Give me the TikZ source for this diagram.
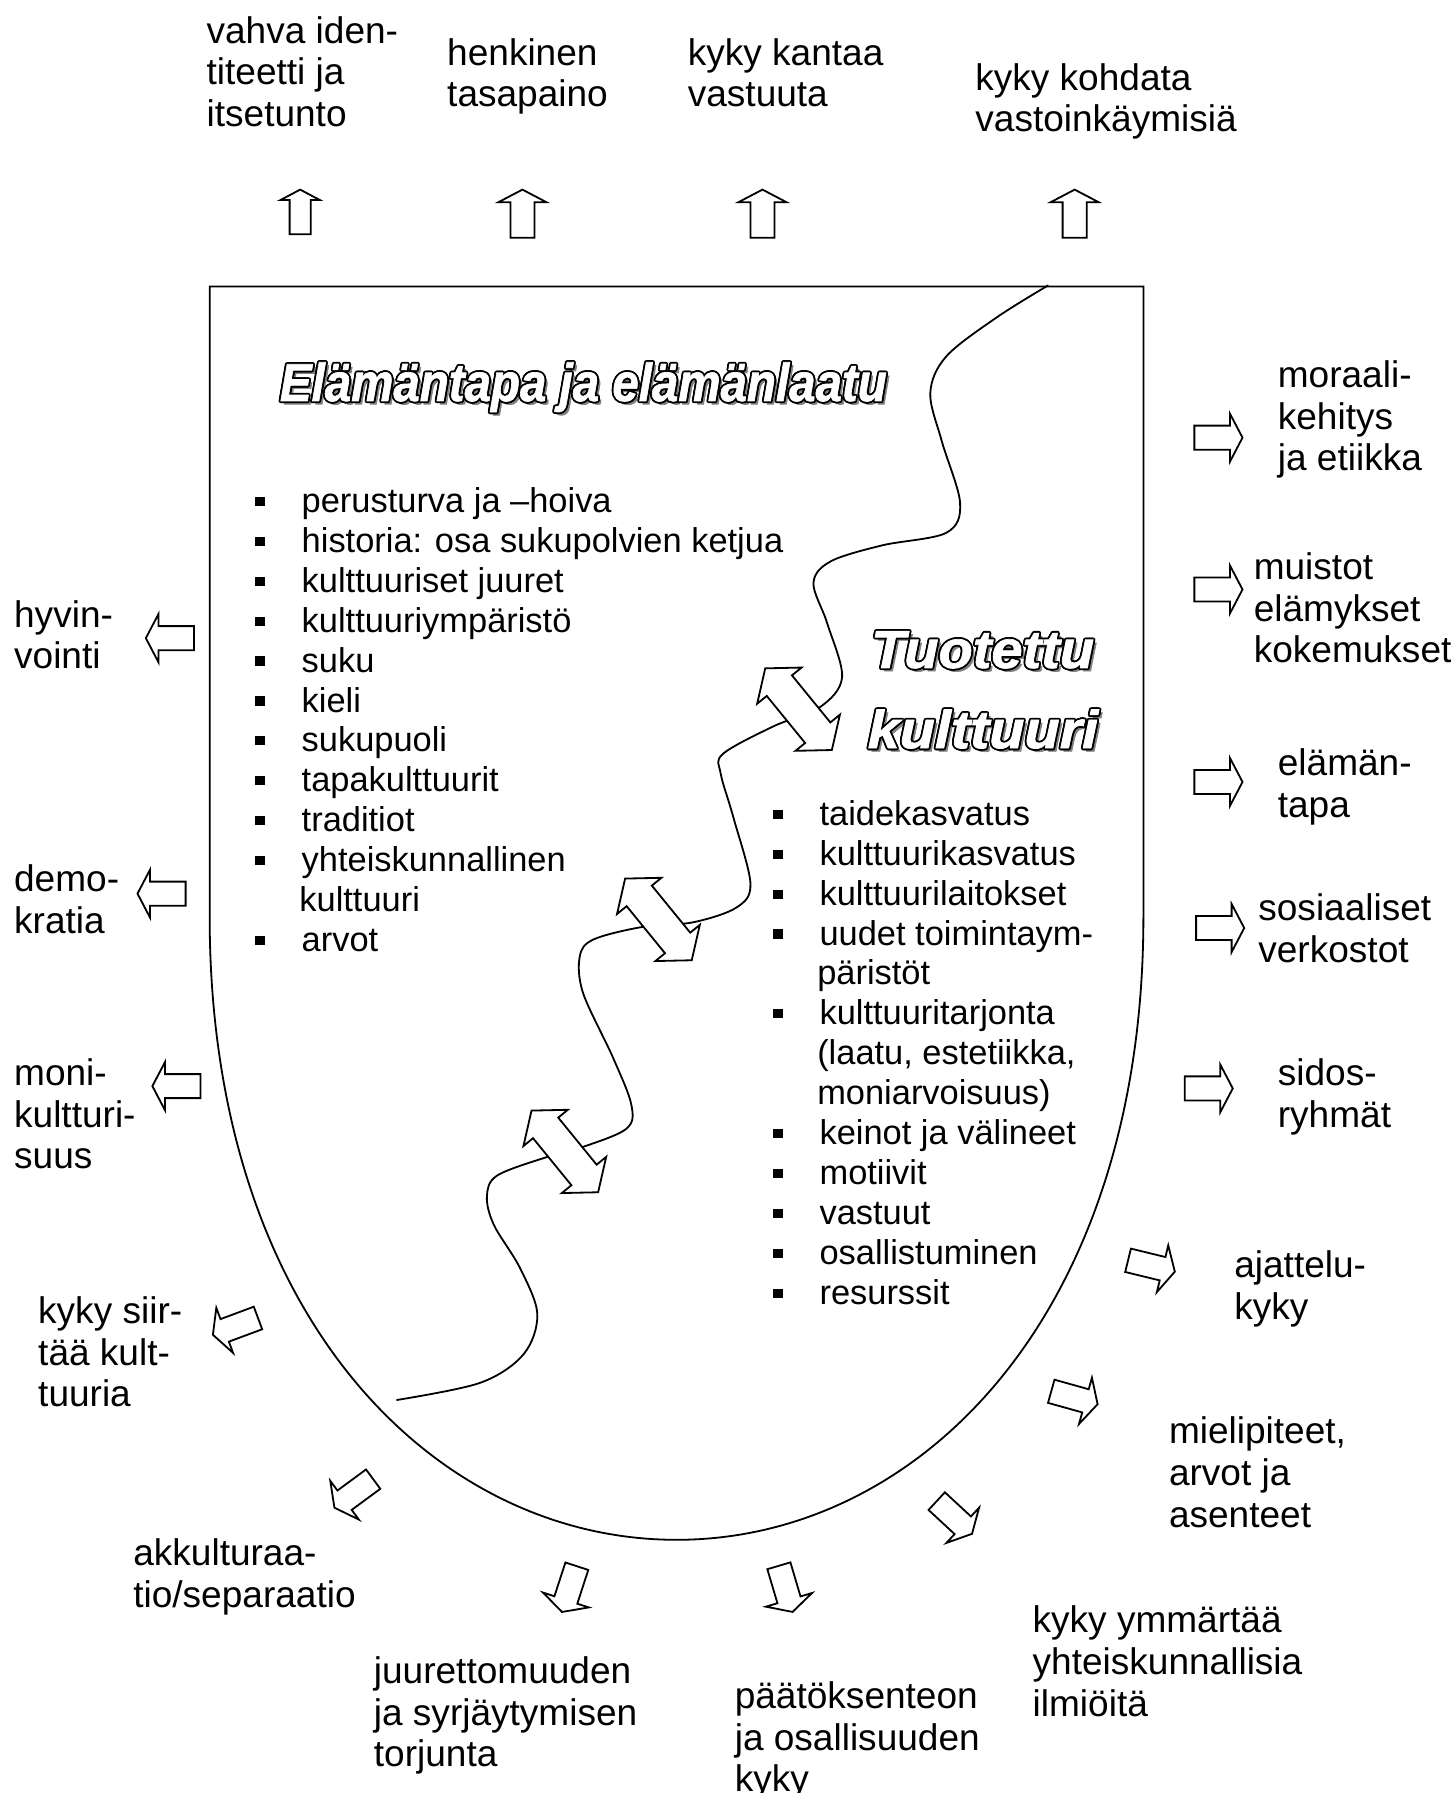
\documentclass[tikz,border=0pt]{standalone}
\usepackage{fontspec}
\setmainfont{Liberation Sans}
\newfontfamily\wafam[FakeBold=1.3]{Liberation Sans Bold Italic}
\usetikzlibrary{calc}
\newcommand\lblfont{\fontsize{18.4}{20.7}\selectfont}
\newcommand\lstfont{\fontsize{17.1}{19.8}\selectfont}
\newcommand\wafont{\wafam\fontsize{26.5}{30}\selectfont}
\tikzset{
  lab/.style={font=\lblfont, align=left, inner sep=0pt, anchor=north west},
  itm/.style={font=\lstfont, inner sep=0pt, anchor=base west},
  bul/.style={fill=black, inner sep=0pt, minimum width=0.18cm, minimum height=0.16cm},
  wa/.style={font=\wafont, inner sep=0pt, anchor=base west},
  shieldline/.style={draw=black, line width=0.9pt},
  waveline/.style={draw=black, line width=0.9pt},
  blkarrow/.style={draw=black, fill=white, line width=0.9pt},
  pics/blk/.style args={#1/#2/#3/#4}{code={\draw[blkarrow] (-#1,-#3) -- (#1-#4,-#3) -- (#1-#4,-#2) -- (#1,0) -- (#1-#4,#2) -- (#1-#4,#3) -- (-#1,#3) -- cycle;}},
  pics/dbl/.style={code={\draw[blkarrow] (-46,0) -- (-26.5,-25) -- (-26.5,-14.2) -- (26.5,-14.2) -- (26.5,-25) -- (46,0) -- (26.5,25) -- (26.5,14.2) -- (-26.5,14.2) -- (-26.5,25) -- cycle;}}
}
\newcommand\blkat[4]{\begin{scope}[shift={#2},rotate=#3]\pic[transform shape] (#1) {blk=#4};\end{scope}}
\newcommand\stdarrow[3]{\blkat{#1}{#2}{#3}{21/21/10.5/11}}
\newcommand\dblat[3]{\begin{scope}[shift={#2},rotate=#3]\pic[transform shape] (#1) {dbl};\end{scope}}
\newcommand\wordart[4]{%
  \node[wa, text=black!50] at ($#2+(2.8,2.8)$) {\scalebox{#3}[1]{#4}};
  \foreach \ang in {0,30,...,330}{\node[wa, text=black] at ($#2+(\ang:1.6)$) {\scalebox{#3}[1]{#4}};}
  \node[wa, text=white] (#1) at #2 {\scalebox{#3}[1]{#4}};
}
\newcommand\litem[4]{\node[itm] (#1) at (#2,#3+3) {#4};}
\newcommand\lbul[3]{\node[bul] (#1) at (#2,#3-6.7) {};}

\begin{document}
\begin{tikzpicture}[x=0.02cm,y=-0.02cm]
\useasboundingbox (0,0) rectangle (1270,1565);

% shield outline
\draw[shieldline] (183,800) -- (183,250) -- (998,250) -- (998,800)
  .. controls (998,1150) and (801,1344) .. (590.5,1344)
  .. controls (380,1344) and (183,1150) .. cycle;

% wavy divider
\draw[waveline] plot[smooth, tension=0.55] coordinates {
 (915,249) (870,277) (826,311) (812,343) (822,385) (838,439) (826,465)
 (770,476) (725,490) (710,509) (722,544) (735,591) (716,617) (675,634)
 (631,658) (629,675) (640,713) (655,771) (643,792) (605,805) (561,809)
 (518,820) (506,835) (509,867) (535,923) (551,964) (547,985) (509,1001)
 (477,1010) (434,1026) (425,1044) (431,1069) (454,1107) (469,1147)
 (457,1182) (419,1207) (346,1222)};

% double arrows across the divider
\dblat{d1}{(697,619)}{-50.8}
\dblat{d2}{(574.7,802.5)}{-50.8}
\dblat{d3}{(493,1005)}{-50.8}

% titles
\wordart{t1}{(244,350)}{0.89}{Elämäntapa ja elämänlaatu}
\wordart{t2}{(760,583)}{1.05}{Tuotettu}
\wordart{t3}{(757,653)}{1.08}{kulttuuri}

% left list
\lbul{lb1}{227}{444.5}   \litem{li1}{263}{444.5}{perusturva ja –hoiva}
\lbul{lb2}{227}{479.3}   \litem{li2}{263}{479.3}{historia: osa sukupolvien ketjua}
\lbul{lb3}{227}{514.1}   \litem{li3}{263}{514.1}{kulttuuriset juuret}
\lbul{lb4}{227}{548.9}   \litem{li4}{263}{548.9}{kulttuuriympäristö}
\lbul{lb5}{227}{583.7}   \litem{li5}{263}{583.7}{suku}
\lbul{lb6}{227}{618.5}   \litem{li6}{263}{618.5}{kieli}
\lbul{lb7}{227}{653.3}   \litem{li7}{263}{653.3}{sukupuoli}
\lbul{lb8}{227}{688.1}   \litem{li8}{263}{688.1}{tapakulttuurit}
\lbul{lb9}{227}{722.9}   \litem{li9}{263}{722.9}{traditiot}
\lbul{lb10}{227}{757.7}  \litem{li10}{263}{757.7}{yhteiskunnallinen}
                         \litem{li11}{261}{792.5}{kulttuuri}
\lbul{lb12}{227}{827.3}  \litem{li12}{263}{827.3}{arvot}

% right list
\lbul{rb1}{678.8}{717.4}   \litem{ri1}{715}{717.4}{taidekasvatus}
\lbul{rb2}{678.8}{752.2}   \litem{ri2}{715}{752.2}{kulttuurikasvatus}
\lbul{rb3}{678.8}{787.1}   \litem{ri3}{715}{787.1}{kulttuurilaitokset}
\lbul{rb4}{678.8}{821.9}   \litem{ri4}{715}{821.9}{uudet toimintaym-}
                           \litem{ri5}{713}{856.7}{päristöt}
\lbul{rb6}{678.8}{891.6}   \litem{ri6}{715}{891.6}{kulttuuritarjonta}
                           \litem{ri7}{713}{926.4}{(laatu, estetiikka,}
                           \litem{ri8}{713}{961.2}{moniarvoisuus)}
\lbul{rb9}{678.8}{996.0}   \litem{ri9}{715}{996.0}{keinot ja välineet}
\lbul{rb10}{678.8}{1030.9} \litem{ri10}{715}{1030.9}{motiivit}
\lbul{rb11}{678.8}{1065.7} \litem{ri11}{715}{1065.7}{vastuut}
\lbul{rb12}{678.8}{1100.5} \litem{ri12}{715}{1100.5}{osallistuminen}
\lbul{rb13}{678.8}{1135.4} \litem{ri13}{715}{1135.4}{resurssit}

% outward block arrows
\blkat{aV}{(262,185)}{90}{19.5/17/9.2/9}
\stdarrow{aH}{(456,186.5)}{90}
\stdarrow{aKa}{(665.5,186.5)}{90}
\stdarrow{aKo}{(938,186.5)}{90}
\stdarrow{aM}{(1063.5,382)}{0}
\stdarrow{aMu}{(1063.5,514.5)}{0}
\stdarrow{aE}{(1063.5,682.5)}{0}
\stdarrow{aS}{(1065,810)}{0}
\stdarrow{aSi}{(1055,950)}{0}
\stdarrow{aA}{(1005,1105)}{-13.7}
\stdarrow{aMi}{(937.8,1220)}{-15.6}
\stdarrow{aY}{(833,1324.5)}{-42.8}
\stdarrow{aP}{(685.8,1386.8)}{-73.5}
\stdarrow{aJ}{(497,1387)}{-108}
\stdarrow{aAk}{(308.8,1303.5)}{216.4}
\stdarrow{aKs}{(205.5,1157.7)}{200.4}
\stdarrow{aMo}{(154,948)}{180}
\stdarrow{aD}{(141,780)}{180}
\stdarrow{aHy}{(148.3,557)}{180}

% outer labels
\node[lab] (Lvahva) at (180,12) {\strut vahva iden-\\titeetti ja\\itsetunto};
\node[lab] (Lhenk) at (390,31) {\strut henkinen\\tasapaino};
\node[lab] (Lkant) at (600,31) {\strut kyky kantaa\\vastuuta};
\node[lab] (Lkoh) at (851,53) {\strut kyky kohdata\\vastoinkäymisiä};
\node[lab] (Lmor) at (1115,312.5) {\strut moraali-\\kehitys\\ja etiikka};
\node[lab] (Lmui) at (1094,480) {\strut muistot\\elämykset\\kokemukset};
\node[lab] (Lela) at (1115,651.5) {\strut elämän-\\tapa};
\node[lab] (Lsos) at (1098,777.5) {\strut sosiaaliset\\verkostot};
\node[lab] (Lsid) at (1115,921.5) {\strut sidos-\\ryhmät};
\node[lab] (Laja) at (1077,1089.5) {\strut ajattelu-\\kyky};
\node[lab] (Lmie) at (1020,1234.5) {\strut mielipiteet,\\arvot ja\\asenteet};
\node[lab] (Lymm) at (901,1399.5) {\strut kyky ymmärtää\\yhteiskunnallisia\\ilmiöitä};
\node[lab] (Lpaa) at (641,1465.5) {\strut päätöksenteon\\ja osallisuuden\\kyky};
\node[lab] (Ljuu) at (326,1443.5) {\strut juurettomuuden\\ja syrjäytymisen\\torjunta};
\node[lab] (Lakk) at (116,1340.5) {\strut akkulturaa-\\tio/separaatio};
\node[lab] (Lsii) at (33,1129.5) {\strut kyky siir-\\tää kult-\\tuuria};
\node[lab] (Lmon) at (12,921.5) {\strut moni-\\kultturi-\\suus};
\node[lab] (Ldem) at (12,752.5) {\strut demo-\\kratia};
\node[lab] (Lhyv) at (12,521.5) {\strut hyvin-\\vointi};
\end{tikzpicture}
\end{document}
